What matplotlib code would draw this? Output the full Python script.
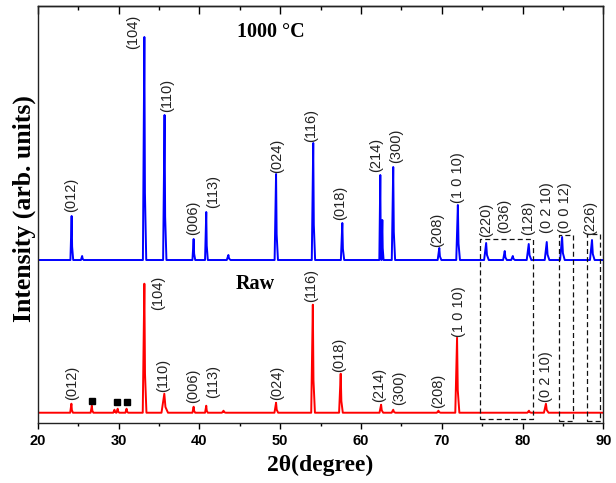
import numpy as np
import matplotlib
matplotlib.use('Agg')
import matplotlib.pyplot as plt

# peak tables: 2theta, height above baseline (arb.), half width
blue_pos = [24.2, 25.5, 33.2, 35.7, 39.3, 40.86, 43.6, 49.5, 54.1, 57.7, 62.4, 62.65,
            64.0, 69.7, 72.0, 75.5, 77.8, 78.8, 80.77, 83.0, 84.9, 88.6]
blue_h = [44, 4, 223, 145, 21, 48, 5, 86, 117, 37, 85, 40,
          93, 12, 55, 17, 9, 4, 16, 18, 23, 20]
blue_w = [0.15, 0.15, 0.18, 0.18, 0.15, 0.15, 0.2, 0.18, 0.18, 0.18, 0.12, 0.12,
          0.18, 0.2, 0.2, 0.25, 0.2, 0.2, 0.25, 0.25, 0.25, 0.25]

red_pos = [24.17, 26.7, 29.5, 29.9, 31.0, 33.2, 35.67, 39.3, 40.86, 43.0, 49.5,
           54.05, 57.5, 62.5, 64.0, 69.6, 71.9, 80.8, 82.9]
red_h = [9, 7, 3, 4, 4, 129, 19, 6, 7, 2, 10, 108, 39, 8, 3, 2, 75, 2, 9]
red_w = [0.15, 0.15, 0.15, 0.15, 0.15, 0.2, 0.35, 0.15, 0.15, 0.2, 0.2,
         0.2, 0.2, 0.2, 0.2, 0.2, 0.22, 0.2, 0.25]

blue_offset = 162.7
red_offset = 10.0

# impurity peaks marked with squares
imp_pos = [26.7, 29.85, 31.1]
imp_y = [22, 20.4, 20.4]

# hkl labels: text, x (2theta), bottom y
blue_labels = [("(012)", 24.12, 210.7), ("(104)", 31.79, 373.7), ("(110)", 35.96, 310.7),
               ("(006)", 39.22, 187.7), ("(113)", 41.66, 214.7), ("(024)", 49.61, 249.7),
               ("(116)", 53.82, 280.7), ("(018)", 57.41, 202.7), ("(214)", 61.86, 250.7),
               ("(300)", 64.42, 259.7), ("(208)", 69.38, 175.7), ("(1 0 10)", 72.01, 219.7),
               ("(220)", 75.44, 186.0), ("(036)", 77.70, 189.7), ("(128)", 80.64, 187.7),
               ("(0 2 10)", 82.99, 189.7), ("(0 0 12)", 85.25, 189.7), ("(226)", 88.35, 187.7)]
red_labels = [("(012)", 24.21, 22.7), ("(104)", 34.85, 112.7), ("(110)", 35.54, 31.0),
              ("(006)", 39.26, 19.7), ("(113)", 41.66, 24.7), ("(024)", 49.58, 22.7),
              ("(116)", 53.82, 121.0), ("(018)", 57.32, 51.0), ("(214)", 62.24, 21.0),
              ("(300)", 64.75, 17.7), ("(208)", 69.57, 14.7), ("(1 0 10)", 72.17, 86.0),
              ("(0 2 10)", 82.90, 21.0)]

# dashed boxes: x0, x1, y0, y1
boxes = [(74.73, 81.34, 3.4, 183.7), (84.47, 86.2, 2.0, 187.7), (87.96, 89.6, 2.0, 188.7)]


def trace(pos, h, w, offset):
    xs = [20.0]
    ys = [offset]
    for p, hh, ww in sorted(zip(pos, h, w)):
        xs += [p - ww, p, p + ww * 0.4, p + ww * 1.3]
        ys += [offset, offset + hh, offset + hh * 0.3, offset]
    xs.append(90.0)
    ys.append(offset)
    return xs, ys


fig = plt.figure(figsize=(6.16, 4.83), dpi=100)
ax = fig.add_axes([0.0612, 0.1248, 0.9182, 0.8628])

bx, by = trace(blue_pos, blue_h, blue_w, blue_offset)
rx, ry = trace(red_pos, red_h, red_w, red_offset)
ax.plot(bx, by, color='#0000ff', linewidth=1.4)
ax.plot(rx, ry, color='#ff0000', linewidth=1.4)
ax.plot(imp_pos, imp_y, 's', color='black', markersize=4.5, linestyle='none')

lab_font = dict(family='Liberation Sans', fontsize=10.5, color='#222222')
for t, x, y in blue_labels + red_labels:
    ax.text(x, y, t, rotation=90, ha='center', va='bottom', **lab_font)

for x0, x1, y0, y1 in boxes:
    ax.plot([x0, x1, x1, x0, x0], [y0, y0, y1, y1, y0], color='#111111',
            linewidth=0.9, linestyle=(0, (4, 2.5)))

ax.text(48.87, 390.7, "1000 °C", ha='center', va='center',
        family='Liberation Serif', fontweight='bold', fontsize=14.5)
ax.text(46.95, 139.2, "Raw", ha='center', va='center',
        family='Liberation Serif', fontweight='bold', fontsize=14.5)

ax.set_xlim(20, 90)
ax.set_ylim(0, 416.7)
ax.set_xticks(np.arange(20, 91, 10))
ax.set_xticks(np.arange(25, 90, 10), minor=True)
ax.set_yticks([])
ax.tick_params(axis='x', which='major', direction='out', length=4.3, width=1, pad=4)
ax.tick_params(axis='x', which='minor', direction='out', length=2.4, width=1)
for lab in ax.get_xticklabels():
    lab.set_family('Liberation Sans')
    lab.set_fontweight('bold')
    lab.set_fontsize(10.5)

top = ax.secondary_xaxis('top')
top.set_xticks(np.arange(20, 91, 10))
top.set_xticks(np.arange(25, 90, 10), minor=True)
top.tick_params(axis='x', which='major', direction='in', length=5.8, width=1, labeltop=False)
top.tick_params(axis='x', which='minor', direction='in', length=2.9, width=1)
top.set_xticklabels([])

for s in ax.spines.values():
    s.set_linewidth(1.0)
    s.set_color('#222222')
top.spines['top'].set_linewidth(1.0)

ax.set_xlabel("2θ(degree)", family='Liberation Serif', fontweight='bold', fontsize=17, labelpad=5)
ax.set_ylabel("Intensity (arb. units)", family='Liberation Serif', fontweight='bold', fontsize=18.5, labelpad=1)
ax.yaxis.label.set_y(0.514)

fig.savefig('out.png', dpi=100)
